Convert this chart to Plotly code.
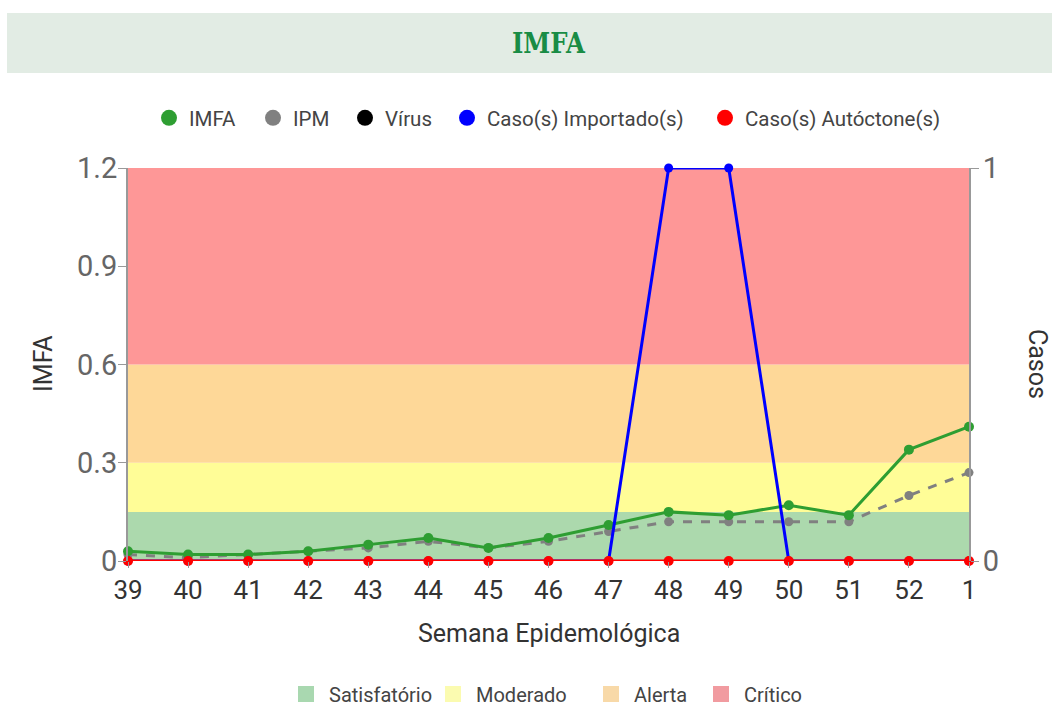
import plotly.graph_objects as go

weeks = ["39", "40", "41", "42", "43", "44", "45", "46", "47", "48", "49", "50", "51", "52", "1"]
imfa = [0.03, 0.02, 0.02, 0.03, 0.05, 0.07, 0.04, 0.07, 0.11, 0.15, 0.14, 0.17, 0.14, 0.34, 0.41]
ipm = [0.02, 0.01, 0.02, 0.03, 0.04, 0.06, 0.04, 0.06, 0.09, 0.12, 0.12, 0.12, 0.12, 0.20, 0.27]
virus = []
imported = [0, 0, 0, 0, 0, 0, 0, 0, 0, 1, 1, 0, 0, 0, 0]
autochthonous = [0, 0, 0, 0, 0, 0, 0, 0, 0, 0, 0, 0, 0, 0, 0]

series_names = ["IMFA", "IPM", "Vírus", "Caso(s) Importado(s)", "Caso(s) Autóctone(s)"]
series_colors = ["#2e9e32", "#808080", "#000000", "#0000ff", "#ff0000"]

band_names = ["Satisfatório", "Moderado", "Alerta", "Crítico"]
band_edges = [0, 0.15, 0.3, 0.6, 1.2]
band_colors = ["#acd9ad", "#fffd97", "#fed898", "#fe9797"]
band_legend_colors = ["#a9d8b0", "#fbfbb0", "#f8d9a8", "#f19ba0"]

y_ticks = [0, 0.3, 0.6, 0.9, 1.2]
y_ticktext = ["0", "0.3", "0.6", "0.9", "1.2"]

FONT = "Roboto"
C_IMFA, C_IPM, C_VIR, C_IMP, C_AUT = series_colors

L, R, T, B = 128, 969, 168, 561
W, H = 1052, 707
pw, ph = R - L, B - T


def px(x):
    return (x - L) / pw


def py(y):
    return (B - y) / ph


# legend placement (pixel centres of symbols)
top_legend_x = [169, 273, 365, 467, 725]
bottom_legend_x = [306, 453, 611, 721]

fig = go.Figure()

# bands
for i, name in enumerate(band_names):
    fig.add_shape(type="rect", xref="x", yref="y", x0=0, x1=len(weeks) - 1,
                  y0=band_edges[i], y1=band_edges[i + 1],
                  fillcolor=band_colors[i], line_width=0, layer="below")

fig.add_trace(go.Scatter(x=weeks, y=ipm, mode="lines+markers", name="IPM",
                         line=dict(color=C_IPM, width=3, dash="dash"),
                         marker=dict(color=C_IPM, size=9), showlegend=False,
                         cliponaxis=False))
fig.add_trace(go.Scatter(x=weeks, y=imfa, mode="lines+markers", name="IMFA",
                         line=dict(color=C_IMFA, width=3),
                         marker=dict(color=C_IMFA, size=10), showlegend=False,
                         cliponaxis=False))
fig.add_trace(go.Scatter(x=weeks, y=imported, mode="lines+markers", yaxis="y2",
                         name="Caso(s) Importado(s)",
                         line=dict(color=C_IMP, width=3),
                         marker=dict(color=C_IMP, size=9), showlegend=False,
                         cliponaxis=False))
fig.add_trace(go.Scatter(x=weeks, y=autochthonous, mode="lines+markers", yaxis="y2",
                         name="Caso(s) Autóctone(s)",
                         line=dict(color=C_AUT, width=3),
                         marker=dict(color=C_AUT, size=10), showlegend=False,
                         cliponaxis=False))

legend_layouts = {}
k = 1
# top legend entries, one legend each for exact placement
for name, col, cx in zip(series_names, series_colors, top_legend_x):
    lid = "legend" if k == 1 else f"legend{k}"
    fig.add_trace(go.Scatter(x=[None], y=[None], mode="markers", name=name,
                             marker=dict(color=col, size=16), legend=lid))
    legend_layouts[lid] = dict(orientation="h", x=px(cx - 20), xanchor="left",
                               y=py(118), yanchor="middle",
                               font=dict(family=FONT, size=20.5, color="#444444"),
                               bgcolor="rgba(0,0,0,0)", itemwidth=30)
    k += 1

# bottom legend entries
for name, col, cx in zip(band_names, band_legend_colors, bottom_legend_x):
    lid = f"legend{k}"
    fig.add_trace(go.Scatter(x=[None], y=[None], mode="markers", name=name,
                             marker=dict(color=col, size=22, symbol="square"),
                             legend=lid))
    legend_layouts[lid] = dict(orientation="h", x=px(cx - 23), xanchor="left",
                               y=py(694), yanchor="middle",
                               font=dict(family=FONT, size=20, color="#444444"),
                               bgcolor="rgba(0,0,0,0)", itemwidth=36)
    k += 1

# header box
fig.add_shape(type="rect", xref="paper", yref="paper", x0=px(7), x1=px(1052),
              y0=py(73), y1=py(13), fillcolor="#e2ece4", line_width=0, layer="below")
fig.add_annotation(xref="paper", yref="paper", x=px(549), y=py(43), text="<b>IMFA</b>",
                   showarrow=False, xanchor="center", yanchor="middle",
                   font=dict(family="DejaVu Serif Condensed", size=27, color="#198c45"))

fig.add_annotation(xref="paper", yref="paper", x=px(43), y=py(364), text="IMFA",
                   textangle=-90, showarrow=False, xanchor="center", yanchor="middle",
                   font=dict(family=FONT, size=25, color="#333333"))
fig.add_annotation(xref="paper", yref="paper", x=px(1038), y=py(364), text="Casos",
                   textangle=90, showarrow=False, xanchor="center", yanchor="middle",
                   font=dict(family=FONT, size=25, color="#333333"))
fig.add_annotation(xref="paper", yref="paper", x=px(549), y=py(633), text="Semana Epidemológica",
                   showarrow=False, xanchor="center", yanchor="middle",
                   font=dict(family=FONT, size=25, color="#333333"))

fig.update_layout(
    width=W, height=H,
    margin=dict(l=L, r=W - R, t=T, b=H - B, pad=0, autoexpand=False),
    paper_bgcolor="white", plot_bgcolor="white",
    font=dict(family=FONT, color="#333333"),
    xaxis=dict(type="category", range=[0, len(weeks) - 1], showgrid=False, zeroline=False,
               ticks="outside", ticklen=6, tickcolor="#999999", showline=False,
               tickfont=dict(family=FONT, size=26, color="#333333"), automargin=False),
    yaxis=dict(range=[0, 1.2], tickvals=y_ticks, ticktext=y_ticktext, showgrid=False,
               zeroline=False, showline=True, linecolor="#999999", linewidth=2,
               ticks="outside", ticklen=8, tickcolor="#999999", ticklabelstandoff=-5,
               tickfont=dict(family=FONT, size=29, color="#666666"), automargin=False),
    yaxis2=dict(range=[0, 1], tickvals=[0, 1], ticktext=["0", "1"], overlaying="y",
                side="right", showgrid=False, zeroline=False, showline=True,
                linecolor="#999999", linewidth=2, ticks="outside", ticklen=8,
                tickcolor="#999999", ticklabelstandoff=-2,
                tickfont=dict(family=FONT, size=29, color="#666666"),
                automargin=False),
    **legend_layouts,
)

fig.write_html("out.html", config={"displayModeBar": False},
               post_script="document.body.style.margin='0px';")
